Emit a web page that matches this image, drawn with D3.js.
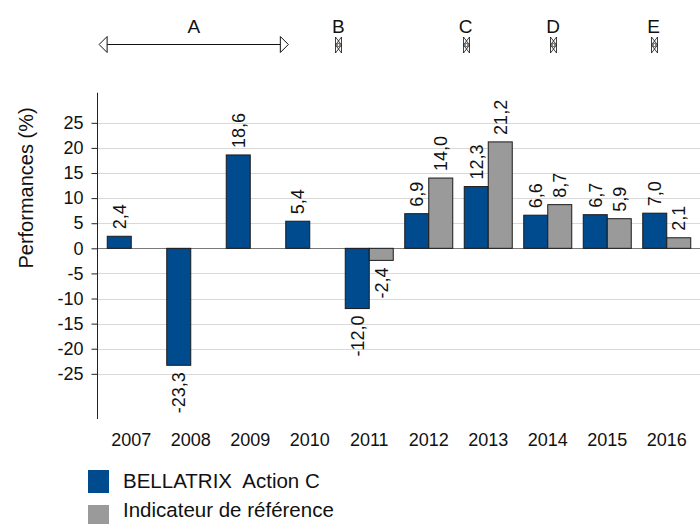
<!DOCTYPE html>
<html>
<head>
<meta charset="utf-8">
<script src="https://cdn.jsdelivr.net/npm/d3@7"></script>
<style>
  body { margin: 0; background: #fff; }
  text { font-family: "Liberation Sans", Arial, sans-serif; fill: #111; }
</style>
</head>
<body>
<script>
var years = ["2007", "2008", "2009", "2010", "2011", "2012", "2013", "2014", "2015", "2016"];
var fund = [2.4, -23.3, 18.6, 5.4, -12.0, 6.9, 12.3, 6.6, 6.7, 7.0];
var bench = [null, null, null, null, -2.4, 14.0, 21.2, 8.7, 5.9, 2.1];
var seriesNames = ["BELLATRIX  Action C", "Indicateur de référence"];
var yTicks = [-25, -20, -15, -10, -5, 0, 5, 10, 15, 20, 25];

// periods shown above the chart, positions in year index units
var periodLabels = ["A", "B", "C", "D", "E"];
var periodFrom = [-0.54, 3.48, 5.62, 7.09, 8.78];
var periodTo = [2.64, 3.48, 5.62, 7.09, 8.78];

var colors = ["#004b8d", "#9a9a9a"];

var width = 700, height = 524;

var svg = d3.select("body").append("svg")
    .attr("width", width)
    .attr("height", height);

var y = d3.scaleLinear()
    .domain([-34, 31])
    .range([419, 92.7]);

var x0 = d3.scaleBand()
    .domain(years)
    .range([101.5, 696.5]);

var x1 = d3.scaleBand()
    .domain([0, 1])
    .range([(x0.bandwidth() - 48) / 2, (x0.bandwidth() + 48) / 2]);

var xi = d3.scaleLinear()
    .domain([0, 9])
    .range([x0(years[0]) + x0.bandwidth() / 2, x0(years[9]) + x0.bandwidth() / 2]);

var fmt = (v) => d3.format(".1f")(v).replace(".", ",").replace("−", "-");

// grid lines
svg.append("g").selectAll("line")
    .data(yTicks)
    .enter()
    .append("line")
    .attr("x1", 97).attr("x2", width)
    .attr("y1", (d) => Math.round(y(d)) + 0.5)
    .attr("y2", (d) => Math.round(y(d)) + 0.5)
    .attr("stroke", (d) => d === 0 ? "#7a7a7a" : "#d9d9d9")
    .attr("stroke-width", 1);

// bars
var rows = [];
years.forEach((yr, i) => {
    [fund[i], bench[i]].forEach((v, s) => {
        if (v !== null) rows.push({ year: yr, s: s, v: v });
    });
});

svg.append("g").selectAll("rect")
    .data(rows)
    .enter()
    .append("rect")
    .attr("x", (d) => x0(d.year) + x1(d.s))
    .attr("y", (d) => y(Math.max(0, d.v)))
    .attr("width", x1.bandwidth())
    .attr("height", (d) => Math.abs(y(d.v) - y(0)))
    .attr("fill", (d) => colors[d.s])
    .attr("stroke", "#1a1a1a")
    .attr("stroke-width", 1);

// value labels, rotated
svg.append("g").selectAll("text")
    .data(rows)
    .enter()
    .append("text")
    .text((d) => fmt(d.v))
    .attr("font-size", "18px")
    .attr("dy", "0.36em")
    .attr("text-anchor", (d) => d.v >= 0 ? "start" : "end")
    .attr("transform", (d) => {
        var cx = x0(d.year) + x1(d.s) + x1.bandwidth() / 2;
        var cy = d.v >= 0 ? y(d.v) - 7 : y(d.v) + 7;
        return `translate(${cx}, ${cy}) rotate(-90)`;
    });

// y axis
var yAxis = d3.axisLeft(y)
    .tickValues(yTicks)
    .tickSize(6)
    .tickPadding(8)
    .tickFormat((d) => String(d));

var ga = svg.append("g")
    .attr("transform", "translate(97.5, 0)")
    .call(yAxis);
ga.select(".domain").remove();
ga.selectAll(".tick line").attr("stroke", "#222");
ga.selectAll(".tick text")
    .attr("font-size", "18px")
    .attr("font-family", "Liberation Sans, Arial, sans-serif")
    .attr("fill", "#111");
ga.append("line")
    .attr("x1", 0).attr("x2", 0)
    .attr("y1", y(31)).attr("y2", y(-34))
    .attr("stroke", "#222");

// year labels
svg.append("g").selectAll("text")
    .data(years)
    .enter()
    .append("text")
    .text((d) => d)
    .attr("x", (d) => x0(d) + x0.bandwidth() / 2)
    .attr("y", 446)
    .attr("font-size", "18px")
    .attr("text-anchor", "middle");

// y title
svg.append("text")
    .text("Performances (%)")
    .attr("transform", "translate(33, 188) rotate(-90)")
    .attr("font-size", "20px")
    .attr("text-anchor", "middle");

// periods on top
var periods = svg.append("g");
periodLabels.forEach((lab, i) => {
    var a = xi(periodFrom[i]), b = xi(periodTo[i]);
    periods.append("text")
        .text(lab)
        .attr("x", (a + b) / 2)
        .attr("y", 33)
        .attr("font-size", "19px")
        .attr("text-anchor", "middle");
    if (b - a > 1) {
        periods.append("line")
            .attr("x1", a + 8).attr("x2", b - 8)
            .attr("y1", 44.5).attr("y2", 44.5)
            .attr("stroke", "#111");
        periods.append("path")
            .attr("d", `M${a},44.5 L${a + 8},36.5 L${a + 8},52.5 Z M${b},44.5 L${b - 8},36.5 L${b - 8},52.5 Z`)
            .attr("fill", "#fff")
            .attr("stroke", "#111");
    } else {
        var c = Math.round(a) + 0.5;
        periods.append("path")
            .attr("d", `M${c - 3},37 L${c + 3},45 L${c - 3},53 M${c + 3},37 L${c - 3},45 L${c + 3},53 M${c - 3},37 V53 M${c + 3},37 V53`)
            .attr("fill", "none")
            .attr("stroke", "#111")
            .attr("stroke-width", 0.8);
        periods.append("circle")
            .attr("cx", c).attr("cy", 45).attr("r", 1.6)
            .attr("fill", "none").attr("stroke", "#111").attr("stroke-width", 0.8);
    }
});

// legend
var legend = svg.append("g").selectAll("g")
    .data(seriesNames)
    .enter()
    .append("g");
legend.append("rect")
    .attr("x", 88)
    .attr("y", (d, i) => 470 + i * 35)
    .attr("width", 21).attr("height", 23)
    .attr("fill", (d, i) => colors[i]);
legend.append("text")
    .text((d) => d)
    .attr("x", 123)
    .attr("y", (d, i) => 488 + i * 29)
    .attr("font-size", "20.5px")
    .style("white-space", "pre");
</script>
</body>
</html>
